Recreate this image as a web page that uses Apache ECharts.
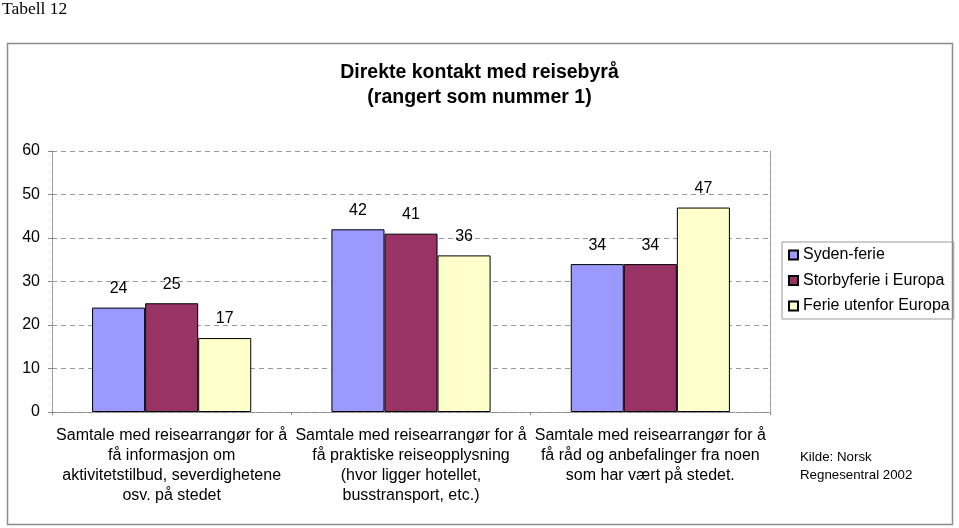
<!DOCTYPE html>
<html>
<head>
<meta charset="utf-8">
<script src="https://cdn.jsdelivr.net/npm/echarts@6/dist/echarts.min.js"></script>
<style>
html,body{margin:0;padding:0;background:#fff;}
#c{width:959px;height:528px;}
</style>
</head>
<body>
<div id="c"></div>
<script>
const categories = [
  "Samtale med reisearrangør for å\nfå informasjon om\naktivitetstilbud, severdighetene\nosv. på stedet",
  "Samtale med reisearrangør for å\nfå praktiske reiseopplysning\n(hvor ligger hotellet,\nbusstransport, etc.)",
  "Samtale med reisearrangør for å\nfå råd og anbefalinger fra noen\nsom har vært på stedet."
];
const seriesNames = ["Syden-ferie", "Storbyferie i Europa", "Ferie utenfor Europa"];
const syden = [24, 42, 34];
const storby = [25, 41, 34];
const utenfor = [17, 36, 47];
const colors = ["#9999FF", "#993366", "#FFFFCC"];
const yTicks = { min: 0, max: 60, interval: 10 };

const FONT = "'Liberation Sans', Arial, sans-serif";
const chart = echarts.init(document.getElementById('c'), null, { renderer: 'canvas' });

function barSeries(name, data, color) {
  return {
    name: name,
    type: 'bar',
    data: data,
    barGap: '0%',
    barCategoryGap: '33.5%',
    itemStyle: { color: color, borderColor: '#000', borderWidth: 1 },
    label: {
      show: true, position: 'top', distance: 11,
      color: '#000', fontFamily: FONT, fontSize: 16
    },
    emphasis: { disabled: true },
    animation: false
  };
}

chart.setOption({
  animation: false,
  backgroundColor: '#fff',
  textStyle: { fontFamily: FONT },
  title: {
    text: 'Direkte kontakt med reisebyrå\n(rangert som nummer 1)',
    left: 'center',
    top: 55,
    textStyle: { fontFamily: FONT, fontSize: 19.5, fontWeight: 'bold', color: '#000', lineHeight: 25 }
  },
  graphic: [
    { type: 'rect', shape: { x: 7.5, y: 43.5, width: 945, height: 481 }, style: { fill: 'none', stroke: '#8c8c8c', lineWidth: 1.5 }, silent: true },
    { type: 'text', left: 2, top: 0, style: { text: 'Tabell 12', font: "17.5px 'Liberation Serif', 'Times New Roman', serif", fill: '#000' } },
    { type: 'text', left: 800, top: 448, style: { text: 'Kilde: Norsk\nRegnesentral 2002', font: "13.3px " + FONT, fill: '#000', lineHeight: 18 } }
  ],
  legend: {
    orient: 'vertical',
    left: 782,
    top: 242,
    data: seriesNames,
    itemWidth: 9,
    itemHeight: 9,
    itemGap: 9.5,
    icon: 'rect',
    padding: [5, 4, 5, 6],
    borderColor: '#999',
    borderWidth: 1,
    textStyle: { fontFamily: FONT, fontSize: 16, color: '#000' }
  },
  grid: { left: 52, top: 151, right: 189, bottom: 116, containLabel: false },
  xAxis: {
    type: 'category',
    data: categories,
    axisLine: { show: true, lineStyle: { color: '#888', type: 'dotted', width: 1 } },
    axisTick: { show: true, length: 3, lineStyle: { color: '#888' } },
    axisLabel: { interval: 0, color: '#000', fontFamily: FONT, fontSize: 16, lineHeight: 20, margin: 14, align: 'center' },
    splitLine: { show: false }
  },
  yAxis: [
    {
      type: 'value',
      min: yTicks.min, max: yTicks.max, interval: yTicks.interval,
      axisLine: { show: true, lineStyle: { color: '#888', type: 'dotted', width: 1 } },
      axisTick: { show: true, length: 4, lineStyle: { color: '#888' } },
      axisLabel: { color: '#000', fontFamily: FONT, fontSize: 16, margin: 12 },
      splitLine: { show: true, lineStyle: { color: '#999', type: [5, 4], width: 1 } }
    },
    {
      type: 'value', position: 'right',
      min: yTicks.min, max: yTicks.max, interval: yTicks.interval,
      axisLine: { show: true, lineStyle: { color: '#888', type: 'dotted', width: 1 } },
      axisTick: { show: false }, axisLabel: { show: false }, splitLine: { show: false }
    }
  ],
  series: [
    barSeries(seriesNames[0], syden, colors[0]),
    barSeries(seriesNames[1], storby, colors[1]),
    barSeries(seriesNames[2], utenfor, colors[2])
  ]
});
</script>
</body>
</html>
